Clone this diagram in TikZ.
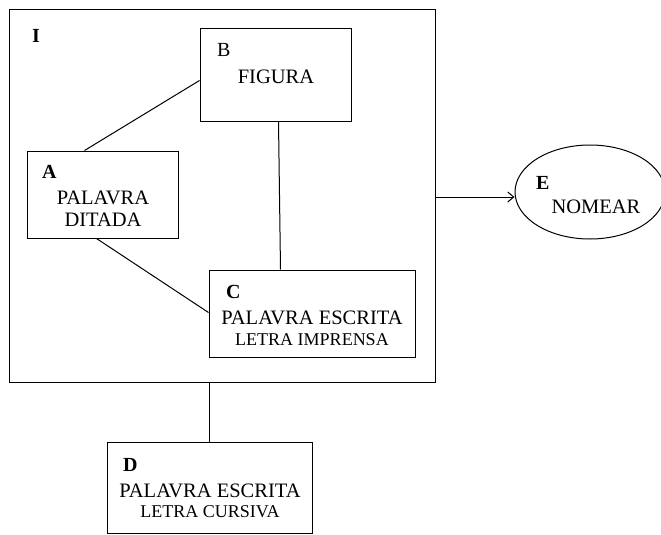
\documentclass[tikz,border=0pt]{standalone}
\usepackage{fontspec}
\setmainfont{Liberation Serif}
\usetikzlibrary{arrows.meta,shapes.geometric,calc}
\begin{document}
\begin{tikzpicture}[x=1pt,y=-1pt,
  box/.style={draw, line width=1pt, inner sep=0pt, rectangle},
  conn/.style={line width=1pt},
  big/.style={inner sep=0pt, anchor=base, font=\fontsize{20.5}{21}\selectfont},
  small/.style={inner sep=0pt, anchor=base, font=\fontsize{18}{19}\selectfont},
  letter/.style={inner sep=0pt, anchor=base west, font=\fontsize{20}{21}\selectfont\bfseries},
  letterB/.style={inner sep=0pt, anchor=base west, font=\fontsize{20}{21}\selectfont}]
\useasboundingbox (0,0) rectangle (661,535);
% outer box I
\node[box, minimum width=426pt, minimum height=372pt] (I) at (222,196) {};
\node[letter] (Il) at (32,43) {I};
% B
\node[box, minimum width=151pt, minimum height=92pt] (B) at (275.5,75) {};
\node[letterB] (Bl) at (217,57) {B};
\node[big] (Bt) at (276,83) {FIGURA};
% A
\node[box, minimum width=151pt, minimum height=87pt] (A) at (102.5,194.5) {};
\node[letter] (Al) at (42,178) {A};
\node[big] (At1) at (103,204) {PALAVRA};
\node[big] (At2) at (103,226) {DITADA};
% C
\node[box, minimum width=206pt, minimum height=87pt] (C) at (312,313.5) {};
\node[letter] (Cl) at (226,298) {C};
\node[big] (Ct1) at (312,324) {PALAVRA ESCRITA};
\node[small] (Ct2) at (312,345) {LETRA IMPRENSA};
% D
\node[box, minimum width=205pt, minimum height=91pt] (D) at (209.5,487.5) {};
\node[letter] (Dl) at (123,471) {D};
\node[big] (Dt1) at (210,497) {PALAVRA ESCRITA};
\node[small] (Dt2) at (210,517) {LETRA CURSIVA};
% E
\node[draw, line width=1pt, ellipse, inner sep=0pt, minimum width=150pt, minimum height=94pt] (E) at (590,192) {};
\node[letter] (El) at (536,189) {E};
\node[big] (Et) at (596,213) {NOMEAR};
% connectors
\draw[conn] ($(A.north west)+(58,0)$) -- ($(B.north west)+(0,52)$);
\draw[conn] ($(A.south west)+(70,0)$) -- ($(C.north west)+(0,43)$);
\draw[conn] ($(B.south west)+(79,0)$) -- ($(C.north west)+(72,0)$);
\draw[conn] (I.south -| D.north) -- (D.north);
\draw[conn, -{Straight Barb[length=6pt,width=10pt]}] (I.east |- E.west) ++(0,5) coordinate (Ia) -- (Ia -| E.west);
\end{tikzpicture}
\end{document}
